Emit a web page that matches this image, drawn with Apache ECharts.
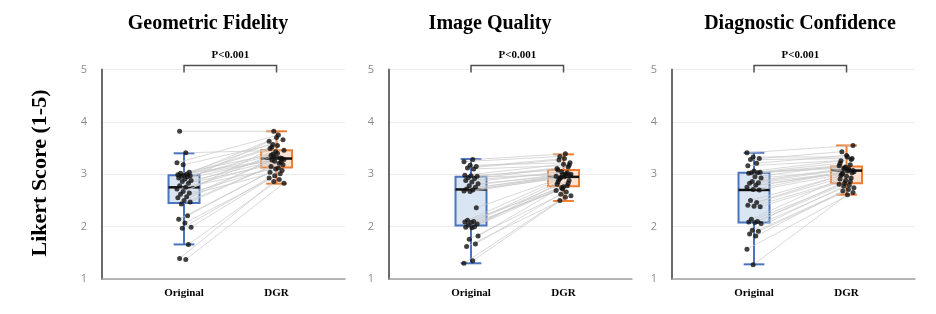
<!DOCTYPE html>
<html>
<head>
<meta charset="utf-8">
<script src="https://cdn.jsdelivr.net/npm/echarts@6/dist/echarts.min.js"></script>
<style>html,body{margin:0;padding:0;background:#fff;}#c{width:936px;height:314px;}</style>
</head>
<body>
<div id="c"></div>
<script>
// ---------- data ----------
const categories = ['Original', 'DGR'];
const panelTitles = ['Geometric Fidelity', 'Image Quality', 'Diagnostic Confidence'];
const yAxisTitle = 'Likert Score (1-5)';
const pValueLabel = 'P<0.001';
const yTicks = [1, 2, 3, 4, 5];

// paired subject scores (same index = same case)
const geoOriginal = [3.82, 3.41, 3.22, 3.18, 3.04, 3.02, 3.00, 2.99, 2.98, 2.97, 2.96, 2.95, 2.93, 2.91, 2.88, 2.86, 2.83, 2.78, 2.75, 2.72, 2.67, 2.64, 2.62, 2.57, 2.55, 2.50, 2.47, 2.43, 2.21, 2.14, 2.07, 1.99, 1.97, 1.66, 1.39, 1.37];
const geoDGR      = [3.82, 3.46, 3.75, 3.57, 3.66, 3.40, 3.52, 3.30, 3.70, 3.36, 3.29, 3.43, 3.49, 3.31, 3.25, 3.63, 3.21, 3.34, 3.28, 3.12, 3.38, 3.18, 3.55, 3.27, 3.07, 3.32, 3.15, 3.23, 3.10, 3.04, 3.01, 2.97, 2.93, 2.90, 2.86, 2.83];

const iqOriginal  = [3.28, 3.24, 3.17, 3.15, 3.12, 3.10, 2.98, 2.97, 2.96, 2.94, 2.92, 2.88, 2.85, 2.82, 2.78, 2.75, 2.72, 2.70, 2.68, 2.67, 2.36, 2.12, 2.10, 2.09, 2.08, 2.05, 2.03, 2.00, 1.99, 1.98, 1.82, 1.76, 1.67, 1.62, 1.35, 1.30];
const iqDGR       = [3.39, 3.34, 3.22, 3.30, 3.27, 3.17, 3.19, 3.08, 3.14, 2.99, 3.11, 3.03, 3.05, 2.96, 3.01, 2.94, 3.00, 2.98, 2.92, 2.97, 2.95, 2.90, 2.88, 2.76, 2.85, 2.83, 2.72, 2.81, 2.78, 2.74, 2.69, 2.66, 2.62, 2.59, 2.56, 2.50];

const dcOriginal  = [3.41, 3.33, 3.30, 3.28, 3.21, 3.16, 3.06, 3.04, 3.03, 3.03, 3.02, 2.95, 2.93, 2.86, 2.84, 2.83, 2.79, 2.75, 2.71, 2.70, 2.50, 2.46, 2.41, 2.39, 2.38, 2.14, 2.10, 2.09, 2.08, 2.06, 1.93, 1.91, 1.86, 1.82, 1.57, 1.27];
const dcDGR       = [3.55, 3.33, 3.43, 3.30, 3.36, 3.26, 3.28, 3.14, 3.21, 3.18, 3.12, 3.16, 3.08, 3.11, 3.05, 3.10, 3.02, 3.07, 3.06, 3.00, 3.03, 2.96, 2.98, 2.93, 2.88, 2.91, 2.86, 2.83, 2.81, 2.79, 2.77, 2.74, 2.71, 2.68, 2.65, 2.61];

// box statistics [lower whisker, Q1, median, Q3, upper whisker]
const geoBoxOriginal = [1.66, 2.45, 2.75, 2.98, 3.40];
const geoBoxDGR      = [2.82, 3.13, 3.30, 3.46, 3.82];
const iqBoxOriginal  = [1.30, 2.02, 2.71, 2.95, 3.29];
const iqBoxDGR       = [2.49, 2.77, 2.95, 3.08, 3.38];
const dcBoxOriginal  = [1.28, 2.08, 2.70, 3.03, 3.41];
const dcBoxDGR       = [2.61, 2.83, 3.07, 3.15, 3.55];

// ---------- chart ----------
const panels = [
  { title: panelTitles[0], orig: geoOriginal, dgr: geoDGR, boxO: geoBoxOriginal, boxD: geoBoxDGR },
  { title: panelTitles[1], orig: iqOriginal, dgr: iqDGR, boxO: iqBoxOriginal, boxD: iqBoxDGR },
  { title: panelTitles[2], orig: dcOriginal, dgr: dcDGR, boxO: dcBoxOriginal, boxD: dcBoxDGR }
];
const gridLefts = [102, 389, 672];
const titleCenters = [203, 485, 795];
const GRID_W = 243, GRID_TOP = 69.5, GRID_H = 209.5;
const X_MIN = 0.1135, X_MAX = 2.74;
const SERIF = '"Liberation Serif", "Times New Roman", serif';
const boxColors = [
  { stroke: '#4a74bd', fill: '#dae5f4' },
  { stroke: '#ed7d31', fill: '#fce3d3' }
];
const jitO = i => (((i * 7 + 3) % 17) - 8) / 105;
const jitD = i => (((i * 11 + 5) % 17) - 8) / 100;

const option = {
  animation: false,
  backgroundColor: '#ffffff',
  title: panels.map((p, k) => ({
    text: p.title, left: titleCenters[k], top: 9, textAlign: 'center',
    textStyle: { fontFamily: SERIF, fontWeight: 'bold', fontSize: 20, color: '#000' }
  })),
  graphic: [{
    type: 'text', x: 40, y: 173, rotation: Math.PI / 2,
    style: { text: yAxisTitle, font: 'bold 22px ' + SERIF, fill: '#000', textAlign: 'center', textVerticalAlign: 'middle' }
  }],
  grid: gridLefts.map(l => ({ left: l, top: GRID_TOP, width: GRID_W, height: GRID_H })),
  xAxis: gridLefts.map((l, k) => ({
    type: 'value', gridIndex: k, min: X_MIN, max: X_MAX,
    axisLine: { show: true, onZero: false, lineStyle: { color: '#a0a0a0', width: 1.5 } },
    axisTick: { show: false },
    splitLine: { show: false },
    axisLabel: {
      customValues: [1, 2], margin: 9,
      formatter: v => categories[Math.round(v) - 1] || '',
      fontFamily: SERIF, fontWeight: 'bold', fontSize: 11, color: '#000'
    }
  })),
  yAxis: gridLefts.map((l, k) => ({
    type: 'value', gridIndex: k, min: yTicks[0], max: yTicks[yTicks.length - 1], interval: 1,
    axisLine: { show: true, lineStyle: { color: '#6b6b6b', width: 2 } },
    axisTick: { show: false },
    splitLine: { show: true, lineStyle: { color: '#ececec', width: 1 } },
    axisLabel: { margin: 15, fontFamily: '"Open Sans", "Liberation Sans", sans-serif', fontSize: 11, color: '#8c8c8c' }
  })),
  series: []
};

panels.forEach((p, k) => {
  // boxes
  option.series.push({
    type: 'custom', xAxisIndex: k, yAxisIndex: k, z: 2,
    data: [[1].concat(p.boxO), [2].concat(p.boxD)],
    renderItem: (params, api) => {
      const x = api.value(0);
      const v = [1, 2, 3, 4, 5].map(i => api.value(i));
      const c = boxColors[params.dataIndex];
      const bw = api.size([0.335, 0])[0], cw = api.size([0.224, 0])[0];
      const pt = val => api.coord([x, val]);
      const cx = pt(v[0])[0];
      const yMin = pt(v[0])[1], yQ1 = pt(v[1])[1], yMed = pt(v[2])[1], yQ3 = pt(v[3])[1], yMax = pt(v[4])[1];
      const ls = { stroke: c.stroke, lineWidth: 2 };
      return {
        type: 'group', children: [
          { type: 'line', shape: { x1: cx, y1: yMin, x2: cx, y2: yQ1 }, style: ls },
          { type: 'line', shape: { x1: cx, y1: yQ3, x2: cx, y2: yMax }, style: ls },
          { type: 'line', shape: { x1: cx - cw / 2, y1: yMin, x2: cx + cw / 2, y2: yMin }, style: ls },
          { type: 'line', shape: { x1: cx - cw / 2, y1: yMax, x2: cx + cw / 2, y2: yMax }, style: ls },
          { type: 'rect', shape: { x: cx - bw / 2, y: yQ3, width: bw, height: yQ1 - yQ3 }, style: { fill: c.fill, stroke: c.stroke, lineWidth: 2 } },
          { type: 'line', shape: { x1: cx - bw / 2, y1: yMed, x2: cx + bw / 2, y2: yMed }, style: { stroke: '#111', lineWidth: 2.5 } }
        ]
      };
    }
  });
  // paired lines
  option.series.push({
    type: 'custom', xAxisIndex: k, yAxisIndex: k, z: 3,
    data: p.orig.map((o, i) => [1 + jitO(i + k), o, 2 + jitD(i + 2 * k), p.dgr[i]]),
    renderItem: (params, api) => {
      const a = api.coord([api.value(0), api.value(1)]);
      const b = api.coord([api.value(2), api.value(3)]);
      return { type: 'line', shape: { x1: a[0], y1: a[1], x2: b[0], y2: b[1] }, style: { stroke: '#c8c8c8', lineWidth: 0.7 } };
    }
  });
  // dots
  option.series.push({
    type: 'scatter', xAxisIndex: k, yAxisIndex: k, z: 4,
    symbolSize: 5, itemStyle: { color: '#111111' },
    data: p.orig.map((o, i) => [1 + jitO(i + k), o]).concat(p.dgr.map((d, i) => [2 + jitD(i + 2 * k), d]))
  });
  // significance bracket
  option.series.push({
    type: 'custom', xAxisIndex: k, yAxisIndex: k, z: 5, clip: false,
    data: [[1, 2, 5]],
    renderItem: (params, api) => {
      const a = api.coord([api.value(0), api.value(2)]);
      const b = api.coord([api.value(1), api.value(2)]);
      const yTop = a[1] - 4, yBot = a[1] + 3;
      const st = { stroke: '#505050', lineWidth: 1.5, fill: null };
      return {
        type: 'group', children: [
          { type: 'polyline', shape: { points: [[a[0], yBot], [a[0], yTop], [b[0], yTop], [b[0], yBot]] }, style: st },
          { type: 'text', x: (a[0] + b[0]) / 2, y: yTop - 10, style: { text: pValueLabel, font: 'bold 11px ' + SERIF, fill: '#000', textAlign: 'center', textVerticalAlign: 'middle' } }
        ]
      };
    }
  });
});

const chart = echarts.init(document.getElementById('c'), null, { renderer: 'canvas' });
chart.setOption(option);
</script>
</body>
</html>
